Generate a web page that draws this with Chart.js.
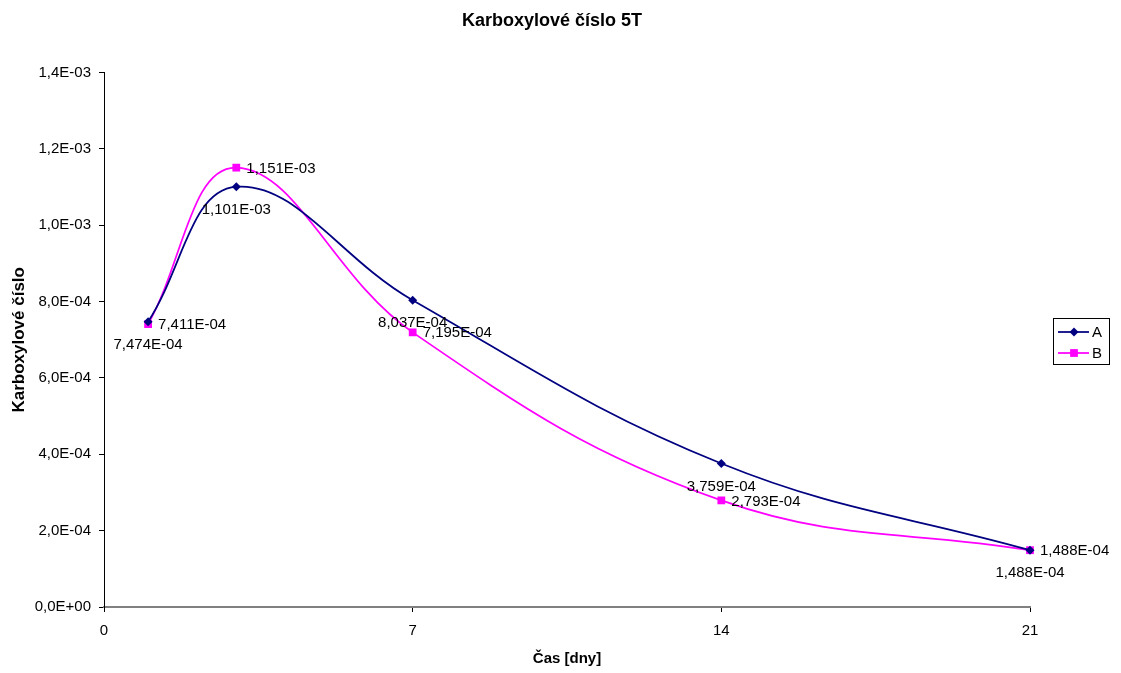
<!DOCTYPE html>
<html>
<head>
<meta charset="utf-8">
<script src="https://cdn.jsdelivr.net/npm/chart.js@4"></script>
<style>
  html, body { margin: 0; padding: 0; background: #fff; }
</style>
</head>
<body>
<canvas id="chart" width="1121" height="673"></canvas>
<script>
// hodnoty
const days = [1, 3, 7, 14, 21];
const seriesA = [7.474e-4, 1.101e-3, 8.037e-4, 3.759e-4, 1.488e-4];
const seriesB = [7.411e-4, 1.151e-3, 7.195e-4, 2.793e-4, 1.488e-4];
const xTicks = [0, 7, 14, 21];
const yMax = 1.4e-3;
const yStep = 2e-4;

const FONT = '"Liberation Sans", Arial, sans-serif';

// 7.474e-4 -> "7,474E-04"
function fmtE(v, d) {
  const parts = v.toExponential(d).split('e');
  const n = parseInt(parts[1], 10);
  return parts[0].replace('.', ',') + 'E' + (n < 0 ? '-' : '+') + String(Math.abs(n)).padStart(2, '0');
}

// popisky hodnot: A pod bodem, B vpravo
const valueLabels = {
  id: 'valueLabels',
  afterDatasetsDraw(chart) {
    const ctx = chart.ctx;
    ctx.save();
    ctx.font = '15px ' + FONT;
    ctx.fillStyle = '#000';
    chart.data.datasets.forEach((ds, i) => {
      const meta = chart.getDatasetMeta(i);
      meta.data.forEach((pt, j) => {
        const txt = fmtE(ds.data[j].y, 3);
        ctx.textBaseline = 'middle';
        if (i === 0) {
          ctx.textAlign = 'center';
          ctx.fillText(txt, pt.x, pt.y + 23);
        } else {
          ctx.textAlign = 'left';
          ctx.fillText(txt, pt.x + 10, pt.y + 1);
        }
      });
    });
    ctx.restore();
  }
};

// legenda v rámečku vpravo
const boxLegend = {
  id: 'boxLegend',
  afterDraw(chart) {
    const ctx = chart.ctx;
    const x = 1053, y = 318, w = 56, h = 46;
    ctx.save();
    ctx.strokeStyle = '#000';
    ctx.lineWidth = 1;
    ctx.strokeRect(x + 0.5, y + 0.5, w, h);
    ctx.font = '15px ' + FONT;
    ctx.textAlign = 'left';
    ctx.textBaseline = 'middle';
    chart.data.datasets.forEach((ds, i) => {
      const ly = y + 14 + i * 21;
      ctx.strokeStyle = ds.borderColor;
      ctx.lineWidth = 1.75;
      ctx.beginPath();
      ctx.moveTo(x + 5, ly);
      ctx.lineTo(x + 36, ly);
      ctx.stroke();
      ctx.fillStyle = ds.backgroundColor;
      Chart.helpers.drawPoint(ctx, { pointStyle: ds.pointStyle, radius: ds.pointRadius, borderWidth: 0 }, x + 21, ly);
      ctx.fillStyle = '#000';
      ctx.fillText(ds.label, x + 39, ly + 1);
    });
    ctx.restore();
  }
};

new Chart(document.getElementById('chart'), {
  type: 'line',
  data: {
    datasets: [
      {
        label: 'A',
        data: days.map((d, i) => ({ x: d, y: seriesA[i] })),
        borderColor: '#000080',
        backgroundColor: '#000080',
        borderWidth: 1.75,
        pointStyle: 'rectRot',
        pointRadius: 4.5,
        pointBorderWidth: 0,
        tension: 0.4,
        clip: false
      },
      {
        label: 'B',
        data: days.map((d, i) => ({ x: d, y: seriesB[i] })),
        borderColor: '#FF00FF',
        backgroundColor: '#FF00FF',
        borderWidth: 1.75,
        pointStyle: 'rect',
        pointRadius: 5.5,
        pointBorderWidth: 0,
        tension: 0.4,
        clip: false
      }
    ]
  },
  options: {
    responsive: false,
    animation: false,
    devicePixelRatio: 1,
    layout: { padding: { left: 0, right: 17, top: 0, bottom: 0 } },
    plugins: {
      legend: { display: false },
      tooltip: { enabled: false },
      title: {
        display: true,
        text: 'Karboxylové číslo 5T',
        color: '#000',
        font: { family: FONT, size: 18, weight: 'bold' },
        padding: { top: 10, bottom: 41 }
      }
    },
    scales: {
      x: {
        type: 'linear',
        min: 0,
        max: 21,
        afterBuildTicks(scale) { scale.ticks = xTicks.map(v => ({ value: v })); },
        ticks: { color: '#000', font: { family: FONT, size: 15 }, padding: 10, maxRotation: 0 },
        grid: { drawOnChartArea: false, drawTicks: true, tickLength: 5, color: '#000' },
        border: { color: '#808080', width: 2 },
        title: {
          display: true,
          text: 'Čas [dny]',
          color: '#000',
          font: { family: FONT, size: 15, weight: 'bold' },
          padding: { top: 0, bottom: 5 }
        },
        afterFit(scale) { scale.height = 66; }
      },
      y: {
        min: 0,
        max: yMax,
        ticks: {
          stepSize: yStep,
          color: '#000',
          font: { family: FONT, size: 15 },
          padding: 8,
          callback: v => fmtE(v, 1)
        },
        grid: { drawOnChartArea: false, drawTicks: true, tickLength: 5, color: '#000' },
        border: { color: '#000', width: 1 },
        title: {
          display: true,
          text: 'Karboxylové číslo',
          color: '#000',
          font: { family: FONT, size: 17, weight: 'bold' },
          padding: { top: 9, bottom: 0 }
        },
        afterFit(scale) { scale.width = 104; }
      },
      // prázdné místo vpravo pro legendu
      yRight: {
        position: 'right',
        min: 0,
        max: 1,
        ticks: { display: false },
        grid: { display: false },
        border: { display: false },
        afterFit(scale) { scale.width = 74; }
      }
    }
  },
  plugins: [valueLabels, boxLegend]
});
</script>
</body>
</html>
